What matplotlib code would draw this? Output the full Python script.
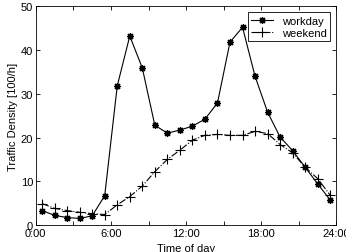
import matplotlib
matplotlib.use("Agg")
import matplotlib.pyplot as plt
import numpy as np

hours = np.arange(24) + 0.5
workday = [3.3, 2.2, 1.7, 1.5, 2.1, 6.7, 31.8, 43.2, 35.9, 22.8, 21.0, 21.7,
           22.6, 24.2, 27.9, 41.8, 45.2, 34.0, 25.8, 20.1, 17.0, 13.2, 9.4, 5.7]
weekend = [4.9, 3.8, 3.3, 2.9, 2.6, 2.4, 4.6, 6.5, 8.9, 12.2, 15.0, 17.1,
           19.4, 20.5, 20.7, 20.5, 20.5, 21.4, 20.9, 18.4, 16.5, 13.2, 10.6, 6.8]
xtick_pos = [0, 6, 12, 18, 24]
xtick_labels = ["0:00", "6:00", "12:00", "18:00", "24:00"]

plt.rcParams['font.family'] = ['Liberation Sans', 'DejaVu Sans']
plt.rcParams['font.size'] = 8

fig = plt.figure(figsize=(3.46, 2.53), dpi=100)
ax = fig.add_axes([0.1035, 0.1067, 0.869, 0.8645])

ax.plot(hours, workday, color='black', linestyle='-', linewidth=0.8,
        marker=(8, 2, 0), markersize=5, markeredgewidth=0.9, label='workday')
ax.plot(hours, weekend, color='black', linestyle='-.', linewidth=0.8,
        marker='+', markersize=6.5, markeredgewidth=0.8, label='weekend')

ax.set_xlim(0, 24)
ax.set_ylim(0, 50)
ax.set_xticks(xtick_pos)
ax.set_xticklabels(xtick_labels)
ax.set_xticks(np.arange(0, 25, 3), minor=True)
ax.set_yticks(np.arange(0, 51, 10))
ax.tick_params(which='both', direction='in', top=True, right=True, length=3, width=0.6)
ax.tick_params(which='minor', length=3)
ax.tick_params(axis='both', pad=2, labelsize=8)
for s in ax.spines.values():
    s.set_linewidth(0.6)

ax.set_xlabel("Time of day", labelpad=4)
ax.set_ylabel("Traffic Density [100/h]", labelpad=2)

leg = ax.legend(loc='upper right', fancybox=False, edgecolor='black',
                framealpha=1, borderaxespad=0.55, handlelength=2.0,
                borderpad=0.3, labelspacing=0.2, fontsize=8, numpoints=1)
leg.get_frame().set_linewidth(0.6)

fig.savefig("out.png", dpi=100)
